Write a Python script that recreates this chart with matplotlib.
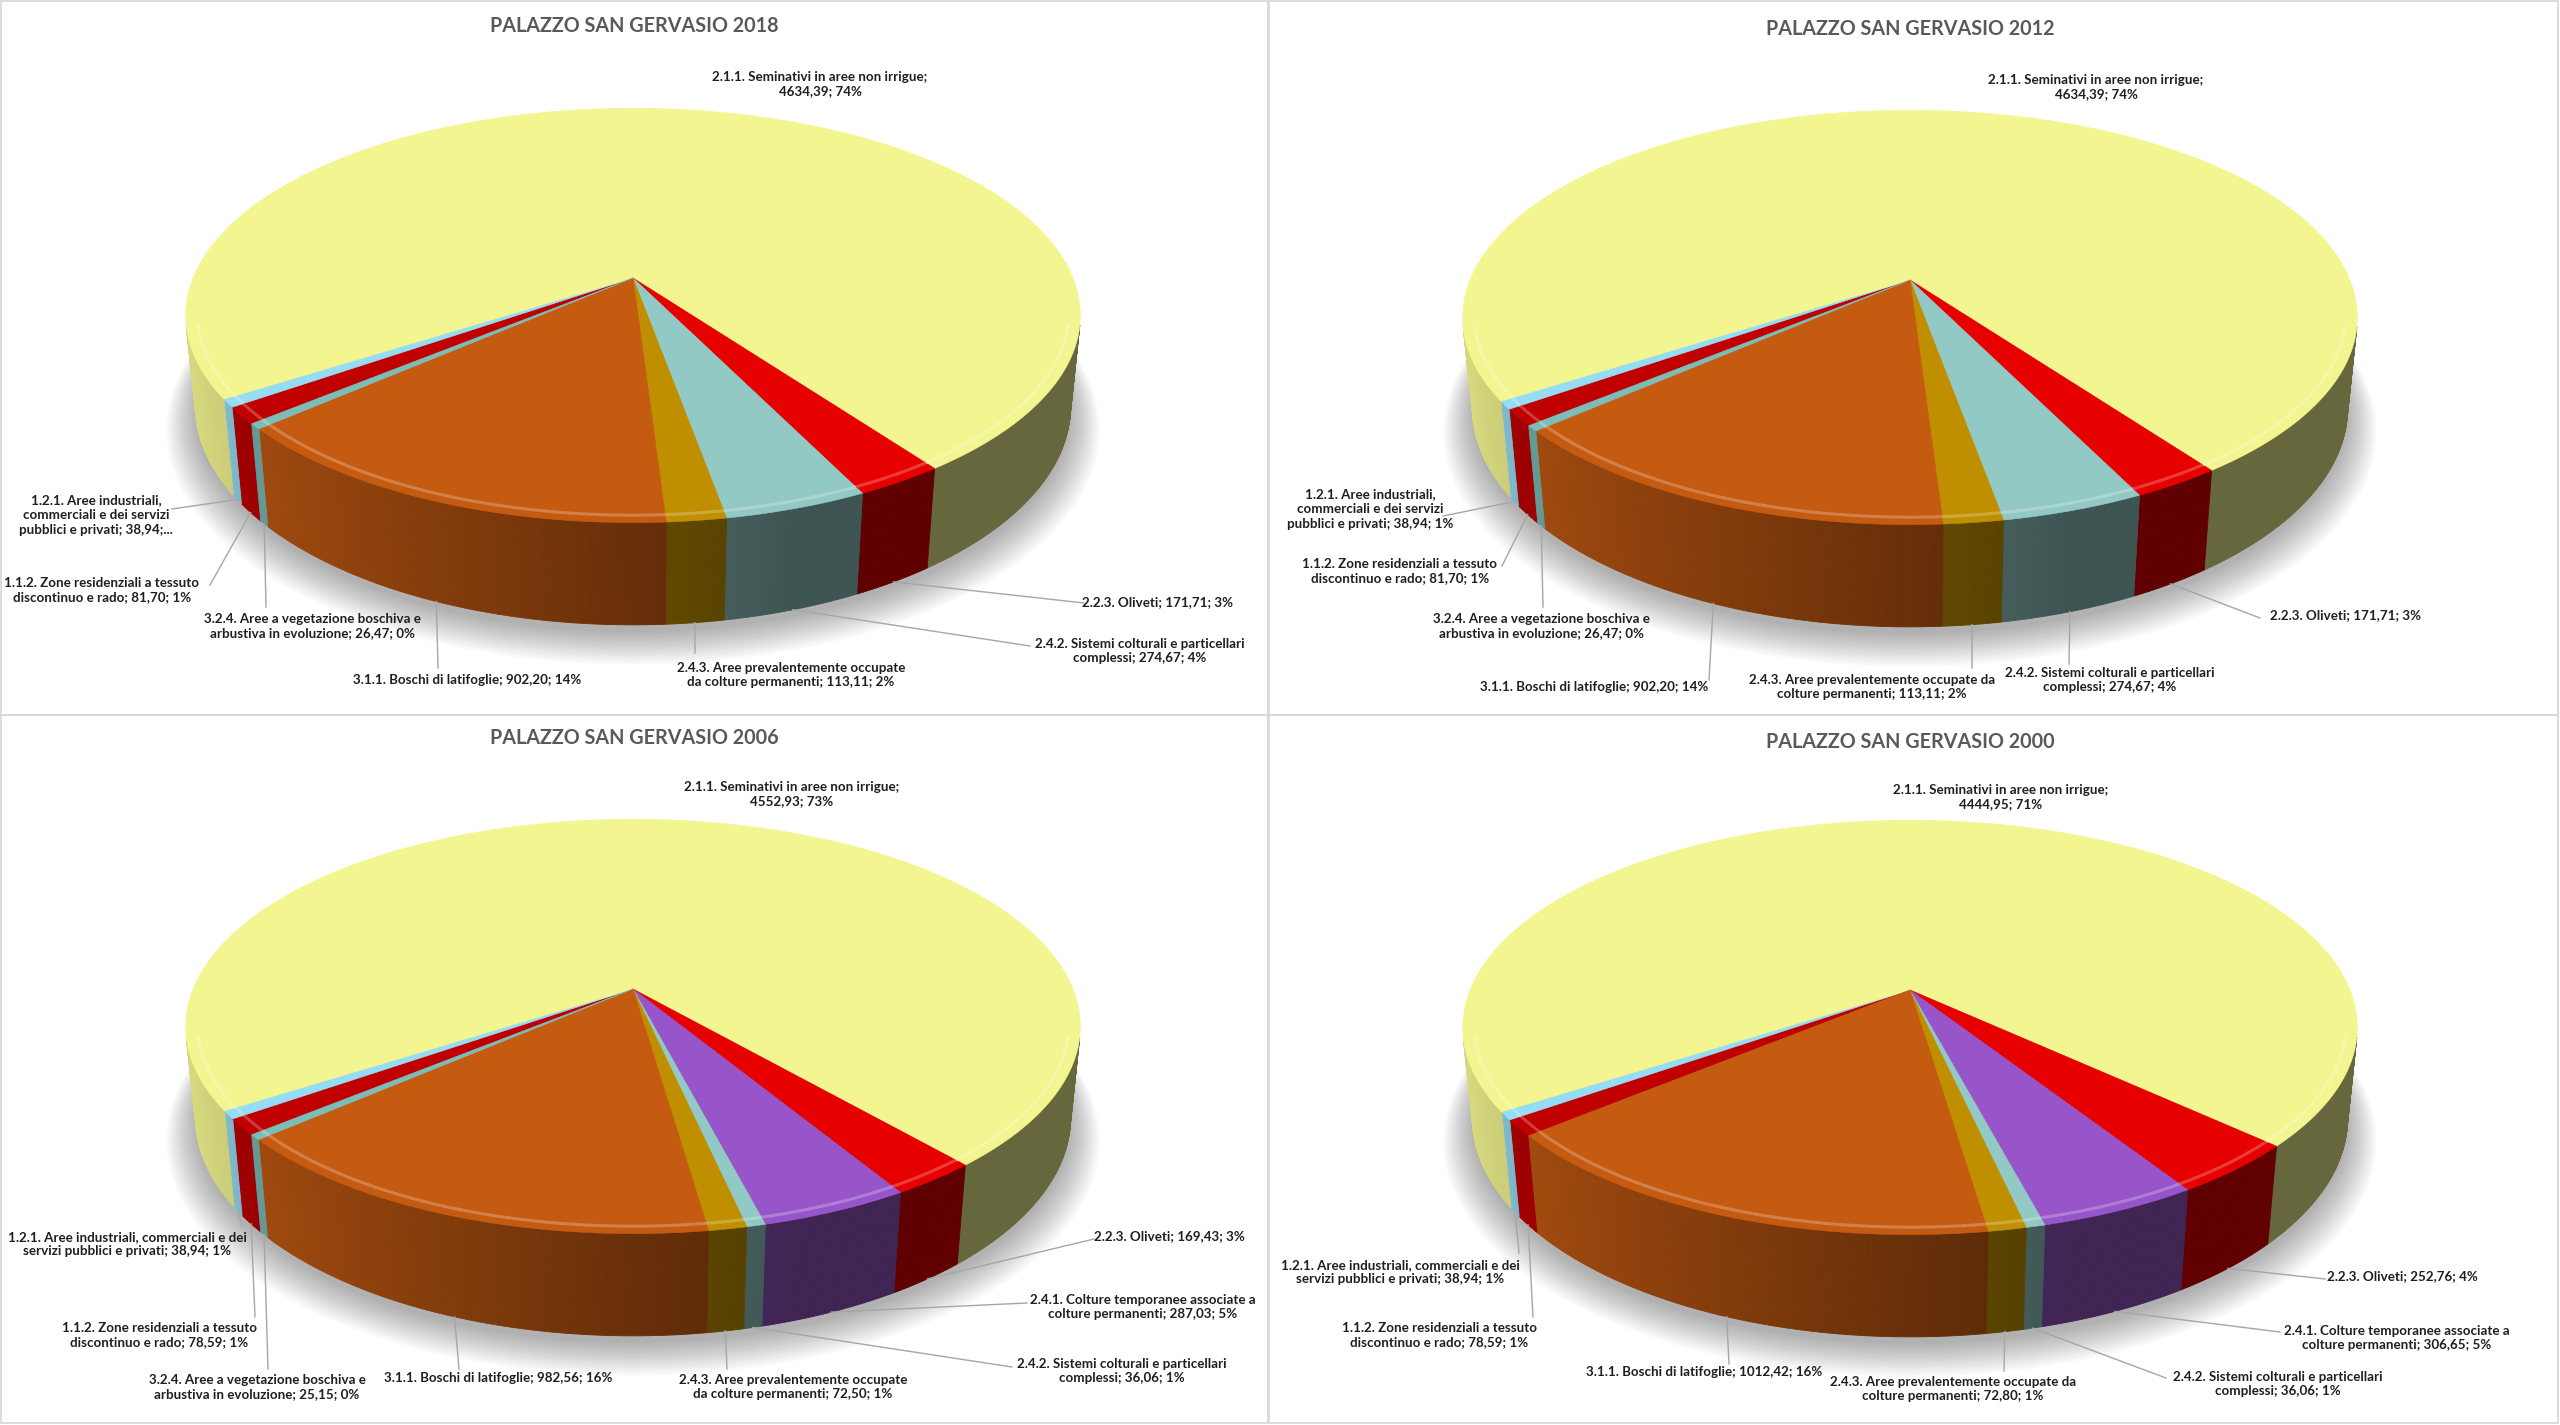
import textwrap
import numpy as np
import matplotlib
matplotlib.use("Agg")
import matplotlib.pyplot as plt
from matplotlib.collections import PolyCollection, LineCollection
from matplotlib.patches import Polygon, Rectangle
from matplotlib.colors import to_rgb

plt.rcParams['font.family'] = ['Lato', 'DejaVu Sans']

# %% data (ha, Corine land cover, Palazzo San Gervasio)
codes = ['1.1.2', '1.2.1', '2.1.1', '2.2.3', '2.4.1', '2.4.2', '2.4.3', '3.1.1', '3.2.4']
names = ['1.1.2. Zone residenziali a tessuto discontinuo e rado',
         '1.2.1. Aree industriali, commerciali e dei servizi pubblici e privati',
         '2.1.1. Seminativi in aree non irrigue',
         '2.2.3. Oliveti',
         '2.4.1. Colture temporanee associate a colture permanenti',
         '2.4.2. Sistemi colturali e particellari complessi',
         '2.4.3. Aree prevalentemente occupate da colture permanenti',
         '3.1.1. Boschi di latifoglie',
         '3.2.4. Aree a vegetazione boschiva e arbustiva in evoluzione']
slice_colors = ['#C00000', '#95DDF5', '#F3F690', '#E60000', '#9755C9',
                '#93C9C4', '#BF8F00', '#C55A11', '#7DBDB8']

years = [2018, 2012, 2006, 2000]
nan = np.nan
values_2018 = [81.70, 38.94, 4634.39, 171.71, nan, 274.67, 113.11, 902.20, 26.47]
values_2012 = [81.70, 38.94, 4634.39, 171.71, nan, 274.67, 113.11, 902.20, 26.47]
values_2006 = [78.59, 38.94, 4552.93, 169.43, 287.03, 36.06, 72.50, 982.56, 25.15]
values_2000 = [78.59, 38.94, 4444.95, 252.76, 306.65, 36.06, 72.80, 1012.42, nan]
values = {2018: values_2018, 2012: values_2012, 2006: values_2006, 2000: values_2000}

# %% layout (pixels)
W, H = 2560, 1425
panels = {2018: (0, 0), 2012: (1280, 0), 2006: (0, 712), 2000: (1280, 712)}
centers = {2018: (633, 278), 2012: (630, 280), 2006: (633, 277), 2000: (630, 278)}
titles = {2018: (634, 26), 2012: (630, 29), 2006: (634, 26), 2000: (630, 30)}

# label centre x, y, wrap width, leader end
labels = {
    2018: {'2.1.1': (820, 84, 40, None), '1.2.1': (96, 515, 29, (172, 509)),
           '1.1.2': (102, 590, 34, (210, 585)), '3.2.4': (312, 626, 36, (266, 607)),
           '3.1.1': (467, 680, 60, (438, 668)), '2.4.3': (791, 675, 36, (695, 653)),
           '2.4.2': (1140, 651, 39, (1030, 646)), '2.2.3': (1158, 602, 60, (1084, 603))},
    2012: {'2.1.1': (816, 87, 40, None), '1.2.1': (90, 509, 29, (163, 516)),
           '1.1.2': (120, 571, 34, (222, 566)), '3.2.4': (261, 626, 36, (263, 607)),
           '3.1.1': (314, 687, 60, (429, 680)), '2.4.3': (592, 687, 39, (692, 668)),
           '2.4.2': (830, 680, 39, (789, 664)), '2.2.3': (1065, 615, 60, (980, 618))},
    2006: {'2.1.1': (792, 82, 40, None), '1.2.1': (127, 532, 42, (242, 513)),
           '1.1.2': (159, 623, 34, (255, 605)), '3.2.4': (257, 675, 36, (268, 657)),
           '3.1.1': (498, 666, 60, (459, 657)), '2.4.3': (793, 675, 36, (727, 657)),
           '2.4.2': (1122, 659, 39, (1012, 655)), '2.4.1': (1143, 595, 37, (1027, 591)),
           '2.2.3': (1169, 524, 60, (1094, 527))},
    2000: {'2.1.1': (721, 85, 40, None), '1.2.1': (120, 560, 42, (239, 541)),
           '1.1.2': (159, 623, 34, (253, 605)), '3.1.1': (424, 660, 60, (449, 652)),
           '2.4.3': (673, 677, 39, (724, 659)), '2.4.2': (998, 672, 39, (886, 666)),
           '2.4.1': (1117, 626, 37, (1000, 620)), '2.2.3': (1122, 564, 60, (1045, 567))},
}
truncated = {(2018, '1.2.1')}

# 3D view
D = 4.93
SE, CE = np.sin(np.radians(27.1)), np.cos(np.radians(27.1))
K = 2169.0
THICK = 0.233
START = np.radians(230)
Y_VIS = 1.0 / (D * CE)


def project(theta, z, r=1.0):
    X = r * np.sin(theta)
    Y = -r * np.cos(theta)
    d = D - Y * CE - z * SE
    return K * X / d, -K * (-Y * SE + z * CE) / d


def shade(x):
    return 0.42 + 0.46 * np.clip((0.3 - x) / 1.25, 0, 1)


def fmt(v):
    return f"{v:.2f}".replace('.', ',')


def draw_pie(ax, year):
    ox, oy = panels[year]
    cx, cy = centers[year]
    vals = np.array(values[year])
    total = np.nansum(vals)
    px, py = ox + cx, oy + cy

    # soft shadow
    t = np.linspace(0, 2 * np.pi, 240)
    for k in range(14):
        sx, sy = project(t, -THICK - 0.01, 1.0 + 0.005 * k)
        ax.add_patch(Polygon(np.c_[px + sx, py + sy + 3 + 0.9 * k], closed=True,
                             fc='black', ec='none', alpha=0.025, zorder=1))

    walls, wall_cols, tops, top_cols, rim_segs, rim_cols = [], [], [], [], [], []
    a0 = START
    mids = {}
    for code, v, col in zip(codes, vals, slice_colors):
        if np.isnan(v):
            continue
        a1 = a0 + 2 * np.pi * v / total
        mids[code] = (a0 + a1) / 2
        base = np.array(to_rgb(col))
        n = max(int(np.degrees(a1 - a0) / 0.4), 2)
        ts = np.linspace(a0, a1, n + 1)
        # top face
        sx, sy = project(ts, 0.0)
        tops.append(np.c_[np.r_[px, px + sx], np.r_[py, py + sy]])
        top_cols.append(base)
        # side wall strips
        for i in range(n):
            tm = 0.5 * (ts[i] + ts[i + 1])
            if -np.cos(tm) <= Y_VIS:
                continue
            tx, ty = project(ts[i:i + 2], 0.0)
            bx, by = project(ts[i:i + 2], -THICK)
            walls.append(np.c_[px + np.r_[tx, bx[::-1]], py + np.r_[ty, by[::-1]]])
            wall_cols.append(np.clip(base * shade(np.sin(tm)), 0, 1))
            hx, hy = project(ts[i:i + 2], 0.0, 0.975)
            rim_segs.append(np.c_[px + hx, py + hy])
            rim_cols.append(tuple(np.clip(base + (1 - base) * 0.35, 0, 1)) + (0.7,))
        a0 = a1

    ax.add_collection(PolyCollection(walls, facecolors=wall_cols, edgecolors=wall_cols,
                                     linewidths=0.6, zorder=2))
    ax.add_collection(PolyCollection(tops, facecolors=top_cols, edgecolors=top_cols,
                                     linewidths=0.4, zorder=3))
    ax.add_collection(LineCollection(rim_segs, colors=rim_cols, linewidths=2.2, zorder=4))
    return mids


fig = plt.figure(figsize=(25.6, 14.25), dpi=100)
ax = fig.add_axes([0, 0, 1, 1])
ax.set_xlim(0, W)
ax.set_ylim(H, 0)
ax.axis('off')

# panel borders
for x0, y0, w, h in [(1, 1, 1267, 714), (1269, 1, 1289, 714), (1, 715, 1267, 708), (1269, 715, 1289, 708)]:
    ax.add_patch(Rectangle((x0, y0), w, h, fill=False, ec='#D9D9D9', lw=1.3, zorder=0))

for year in years:
    ox, oy = panels[year]
    cx, cy = centers[year]
    mids = draw_pie(ax, year)
    tx, ty = titles[year]
    ax.text(ox + tx, oy + ty, f"PALAZZO SAN GERVASIO {year}", ha='center', va='center',
            fontsize=14.2, fontweight='bold', color='#595959', zorder=6)

    vals = values[year]
    total = np.nansum(vals)
    for code, name, v in zip(codes, names, vals):
        if np.isnan(v):
            continue
        lx, ly, wrap, end = labels[year][code]
        if (year, code) in truncated:
            txt = f"{name}; {fmt(v)};..."
        else:
            txt = f"{name}; {fmt(v)}; {round(100 * v / total)}%"
        ax.text(ox + lx, oy + ly, textwrap.fill(txt, wrap), ha='center', va='center',
                multialignment='center', fontsize=9.6, fontweight='bold', color='#1F1F1F',
                linespacing=1.25, zorder=6)
        if end is not None:
            sx, sy = project(mids[code], -THICK)
            ax.plot([ox + cx + sx, ox + end[0]], [oy + cy + sy, oy + end[1]],
                    color='#A6A6A6', lw=1.0, zorder=5)

fig.savefig('out.png', dpi=100)
